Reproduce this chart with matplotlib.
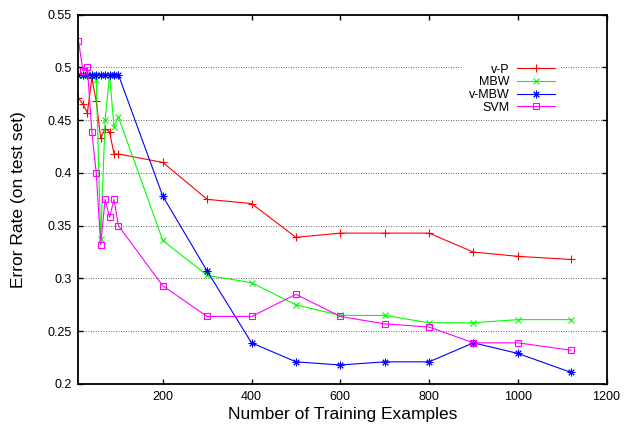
import numpy as np
import matplotlib
matplotlib.use("Agg")
import matplotlib.pyplot as plt

# =========================
# DATA
# =========================

x_vals = [10, 20, 30, 40, 50, 60, 70, 80, 90, 100,
          200, 300, 400, 500, 600, 700, 800, 900, 1000, 1120]

err_vp = [0.471, 0.465, 0.457, 0.490, 0.468, 0.433, 0.442, 0.439, 0.418, 0.418,
          0.410, 0.375, 0.371, 0.339, 0.343, 0.343, 0.343, 0.325, 0.321, 0.318]

err_mbw = [0.493, 0.493, 0.493, 0.493, 0.488, 0.337, 0.450, 0.493, 0.444, 0.453,
           0.336, 0.303, 0.296, 0.275, 0.265, 0.265, 0.258, 0.258, 0.261, 0.261]

err_vmbw = [0.493, 0.493, 0.493, 0.493, 0.493, 0.493, 0.493, 0.493, 0.493, 0.493,
            0.378, 0.307, 0.239, 0.221, 0.218, 0.221, 0.221, 0.239, 0.229, 0.211]

err_svm = [0.525, 0.497, 0.500, 0.439, 0.400, 0.332, 0.375, 0.358, 0.375, 0.350,
           0.293, 0.264, 0.264, 0.285, 0.264, 0.257, 0.254, 0.239, 0.239, 0.232]

series_labels = ["v-P", "MBW", "v-MBW", "SVM"]

y_ticks = [0.2, 0.25, 0.3, 0.35, 0.4, 0.45, 0.5, 0.55]
x_ticks = [200, 400, 600, 800, 1000, 1200]

# =========================
# FIGURE
# =========================

plt.rcParams["font.family"] = ["Liberation Sans", "DejaVu Sans"]

fig = plt.figure(figsize=(6.24, 4.30), dpi=100)
ax = fig.add_axes([0.1258, 0.107, 0.972 - 0.1258, 0.9658 - 0.107])

estilos = [
    dict(color="#ff0000", marker="+", ms=5.5, mew=0.8),
    dict(color="#00ff00", marker="x", ms=4.5, mew=0.8),
    dict(color="#0000ff", marker=(8, 2, 0), ms=5.5, mew=0.7),
    dict(color="#ff00ff", marker="s", ms=4.5, mew=0.8, mfc="none"),
]

for serie, etiqueta, est in zip([err_vp, err_mbw, err_vmbw, err_svm], series_labels, estilos):
    ax.plot(x_vals, serie, lw=0.8, label=etiqueta, **est)

ax.set_xlim(10, 1200)
ax.set_ylim(0.2, 0.55)
ax.set_xticks(x_ticks)
ax.set_yticks(y_ticks)
ax.set_yticklabels([f"{v:g}" for v in y_ticks])

# grid only on y
for v in y_ticks[1:-1]:
    ax.axhline(v, color="#333333", lw=0.6, dashes=(1, 2), zorder=0.5)

for s in ax.spines.values():
    s.set_linewidth(1.3)

ax.tick_params(direction="in", length=3.5, width=1, labelsize=9,
               top=True, right=True, pad=5)

ax.set_xlabel("Number of Training Examples", fontsize=12.5, labelpad=3)
ax.set_ylabel("Error Rate (on test set)", fontsize=12.5, labelpad=15)

leg = ax.legend(loc="upper right", bbox_to_anchor=(0.914, 0.884),
                markerfirst=False, frameon=True, fancybox=False,
                edgecolor="none", facecolor="white", framealpha=1,
                fontsize=9, handlelength=3.0, handletextpad=0.6,
                labelspacing=0.05, borderpad=0.5, numpoints=1,
                borderaxespad=0)
leg.set_zorder(5)

fig.savefig("out.png", dpi=100)
